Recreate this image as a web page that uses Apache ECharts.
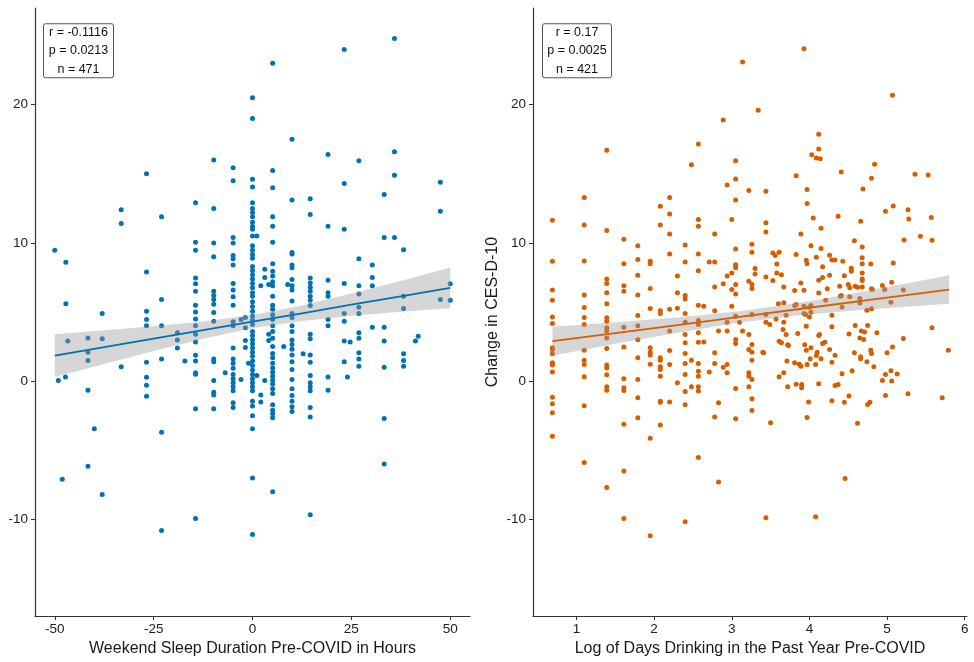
<!DOCTYPE html>
<html>
<head>
<meta charset="utf-8">
<title>CES-D-10 change</title>
<script src="https://cdn.jsdelivr.net/npm/echarts@6/dist/echarts.min.js"></script>
<style>
  html, body { margin: 0; padding: 0; background: #fff; }
  #main { width: 974px; height: 662px; }
</style>
</head>
<body>
<div id="main"></div>
<script>
// ---- data ----
const sleepTicks = [-50, -25, 0, 25, 50]
const drinkTicks = [1, 2, 3, 4, 5, 6]
const changeTicks = [-10, 0, 10, 20]

const sleepStats = ['r = -0.1116', 'p = 0.0213', 'n = 471']
const drinkStats = ['r = 0.17', 'p = 0.0025', 'n = 421']

// weekend sleep (x) vs change in CES-D-10 (y)
const sleepPoints = [
  [-50, 9.47], [-49.1, 0.05], [-48.1, -7.1], [-47.2, 8.6], [-47.2, 5.6], [-47.3, 0.3], [-46.7, 2.9],
  [-41.6, 3.13], [-41.6, 2.1], [-41.6, 1.5], [-41.6, -0.65], [-41.6, -6.15], [-40, -3.45],
  [-38, 4.9], [-38, 3.06], [-38, -8.2], [-33.2, 12.4], [-33.2, 11.4], [-33.2, 1.04],
  [-26.8, 15.0], [-26.8, 7.9], [-26.8, 5.06], [-26.8, 4.46], [-26.8, 4.0], [-26.8, 1.37], [-26.8, 0.29], [-26.8, -0.29], [-26.8, -1.1],
  [-23, 11.9], [-23, 5.9], [-23, 4.0], [-23, 1.6], [-23, -3.7], [-23, -10.8],
  [-19, 3.5], [-19, 2.97], [-19, 2.4], [-17.1, 1.45],
  [-14.4, 12.9], [-14.4, 10.05], [-14.4, 9.47], [-14.4, 7.47], [-14.4, 7.04], [-14.4, 6.51], [-14.4, 5.5], [-14.4, 5.0],
  [-14.4, 4.5], [-14.4, 4.0], [-14.4, 3.4], [-14.4, 2.84], [-14.4, 1.88], [-14.4, 1.45], [-14.4, 0.6], [-14.4, 0.5], [-14.4, -2.0], [-14.4, -9.93],
  [-9.8, 16.0], [-9.8, 12.5], [-9.8, 10.0], [-9.8, 9.0], [-9.8, 6.5], [-9.8, 6.2], [-9.8, 5.9], [-9.8, 5.57], [-9.8, 4.97],
  [-9.8, 4.34], [-9.8, 1.6], [-9.8, 1.4], [-9.8, 0.05], [-9.8, -0.8], [-9.8, -1.0], [-9.8, -2.0], [-6.9, 0.6],
  [-4.9, 15.45], [-4.9, 14.5], [-4.9, 10.4], [-4.9, 10.0], [-4.9, 9.1], [-4.9, 8.85], [-4.9, 8.4], [-4.9, 7.06], [-4.9, 6.6],
  [-4.9, 6.1], [-4.9, 5.5], [-4.9, 4.3], [-4.9, 4.0], [-4.9, 2.4], [-4.9, 1.6], [-4.9, 1.3], [-4.9, 0.94], [-4.9, 0.48],
  [-4.9, 0.17], [-4.9, -0.12], [-4.9, -0.4], [-4.9, -0.7], [-4.9, -1.57], [-4.9, -1.9],
  [-2.9, 0.12], [-2.9, 4.46], [-1.8, 4.6], [-1.8, 3.86], [-1.8, 2.94], [-1.8, 2.43], [-1, 1.3],
  [0, 20.5], [0, 19.0], [0, 14.6], [0, 14.05], [0, 12.9], [0, 12.5], [0, 12.2], [0, 11.9], [0, 11.5], [0, 11.2], [0, 11.0],
  [0, 10.5], [0, 9.8], [0, 9.47], [0, 9.16], [0, 8.9], [0, 8.3], [0, 8.0], [0, 7.7], [0, 7.4], [0, 7.06], [0, 6.75], [0, 6.4],
  [0, 6.14], [0, 5.75], [0, 5.4], [0, 5.06], [0, 4.7], [0, 4.4], [0, 4.1], [0, 3.6], [0, 3.3], [0, 3.0], [0, 2.7], [0, 2.4],
  [0, 2.1], [0, 1.8], [0, 1.45], [0, 1.13], [0, 0.8], [0, 0.48], [0, 0.17], [0, -0.12], [0, -0.4], [0, -0.7], [0, -1.45],
  [0, -1.8], [0, -2.5], [0, -3.45], [0, -7.0], [0, -11.1],
  [1.1, 10.5], [1.1, 0.4], [2.1, 6.9], [2.1, -1.0], [2.1, -1.5], [3.1, 8.1], [3.1, 7.5], [3.1, 0.05],
  [4.1, 7.0], [4.1, 3.4], [4.1, 2.94],
  [5.1, 23.0], [5.1, 15.25], [5.1, 14.0], [5.1, 11.9], [5.1, 11.2], [5.1, 10.05], [5.1, 8.5], [5.1, 7.95], [5.1, 7.6],
  [5.1, 7.2], [5.1, 6.9], [5.1, 6.15], [5.1, 5.5], [5.1, 5.2], [5.1, 4.8], [5.1, 4.46], [5.1, 4.0], [5.1, 3.6], [5.1, 3.1],
  [5.1, 2.5], [5.1, 2.0], [5.1, 1.7], [5.1, 1.3], [5.1, 0.96], [5.1, 0.65], [5.1, 0.36], [5.1, 0.07], [5.1, -0.2],
  [5.1, -0.55], [5.1, -0.9], [5.1, -1.7], [5.1, -2.1], [5.1, -2.36], [5.1, -2.65], [5.1, -8.0],
  [7.9, 2.5], [8.9, 7.0],
  [10, 17.5], [10, 13.1], [10, 9.3], [10, 9.2], [10, 8.4], [10, 8.2], [10, 7.35], [10, 6.9], [10, 6.6], [10, 5.8], [10, 4.9],
  [10, 4.6], [10, 4.0], [10, 3.6], [10, 2.97], [10, 2.65], [10, 2.3], [10, 1.9], [10, 1.4], [10, 0.84], [10, 0.12],
  [10, -0.55], [10, -1.04], [10, -1.45], [10, -1.85], [10, -2.2], [12.8, 1.98],
  [14.6, 13.2], [14.6, 12.05], [14.6, 7.47], [14.6, 7.1], [14.6, 6.8], [14.6, 6.5], [14.6, 6.15], [14.6, 5.86], [14.6, 5.47],
  [14.6, 3.4], [14.6, 3.06], [14.6, 1.9], [14.6, 1.37], [14.6, 0.4], [14.6, -0.12], [14.6, -0.4], [14.6, -0.7], [14.6, -1.9],
  [14.6, -2.6], [14.6, -9.67],
  [19.1, 16.4], [19.1, 11.2], [19.1, 7.3], [19.1, 6.4], [19.1, 6.14], [19.1, 4.46], [19.1, 4.0], [19.1, 0.3], [19.1, -0.65],
  [23.2, 24.0], [23.2, 14.3], [23.2, 11.0], [23.2, 7.06], [23.2, 4.9], [23.2, 4.34], [23.2, 2.9], [23.2, 1.4],
  [24, 0.3], [24.7, 2.84],
  [26.9, 15.95], [26.9, 8.85], [26.9, 6.9], [26.9, 6.3], [26.9, 5.35], [26.9, 4.9], [26.9, 3.5], [26.9, 3.1], [26.9, 2.05],
  [26.9, 1.6], [26.9, 1.08],
  [30.3, 8.4], [30.3, 7.5], [30.3, 6.9], [30.3, 3.9],
  [33.3, 13.5], [33.3, 10.4], [33.3, 3.9], [33.3, 2.9], [33.3, 1.0], [33.3, -2.7], [33.3, -6.0],
  [35.9, 24.8], [35.9, 16.6], [35.9, 14.9], [35.9, 10.4],
  [38.2, 9.5], [38.2, 6.14], [38.2, 5.25], [38.2, 1.98], [38.2, 1.5], [38.2, 1.08],
  [41.2, 2.9], [41.9, 3.25], [47.5, 14.4], [47.5, 12.3], [47.5, 5.9], [50, 7.04], [50, 5.86]
]

// log days drinking (x) vs change in CES-D-10 (y)
const drinkPoints = [
  [0.69, 11.64], [0.69, 8.68], [0.69, 6.6], [0.69, 5.86], [0.69, 4.65], [0.69, 4.17], [0.69, 2.41], [0.69, 2.29], [0.69, 1.98],
  [0.69, 1.33], [0.69, 1.16], [0.69, 0.67], [0.69, -1.16], [0.69, -1.64], [0.69, -2.29], [0.69, -3.98],
  [1.1, 13.28], [1.1, 11.3], [1.1, 8.7], [1.1, 6.24], [1.1, 5.33], [1.1, 4.6], [1.1, 4.1], [1.1, 2.24], [1.1, 1.52], [1.1, 1.2],
  [1.1, 0.32], [1.1, -1.78], [1.1, -5.88],
  [1.39, 16.7], [1.39, 10.9], [1.39, 7.4], [1.39, 7.06], [1.39, 6.4], [1.39, 5.6], [1.39, 4.58], [1.39, 4.34], [1.39, 3.86],
  [1.39, 3.62], [1.39, 3.13], [1.39, 2.36], [1.39, 1.16], [1.39, 0.96], [1.39, 0.46], [1.39, -0.41], [1.39, -0.65], [1.39, -7.69],
  [1.61, 10.26], [1.61, 8.5], [1.61, 6.9], [1.61, 6.5], [1.61, 3.9], [1.61, 2.48], [1.61, 0.17], [1.61, -0.48], [1.61, -0.67],
  [1.61, -3.11], [1.61, -6.51], [1.61, -9.93],
  [1.79, 9.8], [1.79, 8.8], [1.79, 7.66], [1.79, 6.24], [1.79, 4.75], [1.79, 4.0], [1.79, 3.0], [1.79, 1.69], [1.79, 0.12],
  [1.79, -1.2], [1.79, -2.65],
  [1.95, 8.68], [1.95, 8.5], [1.95, 6.7], [1.95, 5.25], [1.95, 2.41], [1.95, 2.1], [1.95, 1.9], [1.95, 1.23], [1.95, -4.14], [1.95, -11.18],
  [2.08, 12.65], [2.08, 11.3], [2.08, 5.1], [2.08, 4.9], [2.08, 1.69], [2.08, 1.52], [2.08, 1.04], [2.08, 0.84], [2.08, 0.36],
  [2.08, -1.45], [2.08, -1.52], [2.08, -3.18],
  [2.2, 13.28], [2.2, 12.1], [2.2, 10.65], [2.2, 9.2], [2.2, 5.2], [2.2, 3.62], [2.2, 2.22], [2.2, 1.2], [2.2, -1.5],
  [2.3, 7.6], [2.3, 6.4], [2.3, 5.28], [2.3, -0.12],
  [2.4, 9.86], [2.4, 8.63], [2.4, 6.2], [2.4, 5.95], [2.4, 4.9], [2.4, 4.27], [2.4, 3.38], [2.4, 2.78], [2.4, 2.0], [2.4, 1.28],
  [2.4, 0.48], [2.4, -0.75], [2.4, -1.71], [2.4, -10.17],
  [2.48, 15.65], [2.48, 1.52], [2.48, -0.41],
  [2.57, 17.16], [2.57, 11.7], [2.57, 11.2], [2.57, 9.2], [2.57, 7.98], [2.57, 5.5], [2.57, 4.39], [2.57, 4.1], [2.57, 3.5],
  [2.57, 2.82], [2.57, 1.28], [2.57, 0.72], [2.57, 0.36], [2.57, -0.41], [2.57, -0.72], [2.57, -5.52],
  [2.64, 5.42], [2.64, 2.84], [2.71, 8.63], [2.71, 0.67],
  [2.78, 8.63], [2.78, 10.65], [2.78, 6.82], [2.78, 5.1], [2.78, 2.05], [2.78, 1.28], [2.78, -2.6],
  [2.83, -1.57], [2.83, -7.3], [2.83, 3.62], [2.89, 18.9], [2.89, 7.04], [2.89, 1.01],
  [2.94, 14.2], [2.94, 7.6], [2.94, 4.27], [2.94, 1.2], [2.94, 0.6], [2.94, 3.62],
  [3.0, 11.7], [3.0, 7.83], [3.0, 6.63], [3.0, 5.42],
  [3.05, 15.95], [3.05, 14.63], [3.05, 13.1], [3.05, 9.57], [3.05, 8.43], [3.05, 8.2], [3.05, 7.0], [3.05, 6.3], [3.05, 4.7],
  [3.05, 3.01], [3.05, 2.72], [3.05, -0.53], [3.05, -2.72], [3.1, 4.27], [3.14, 23.1], [3.14, 3.62],
  [3.22, 13.8], [3.22, 7.23], [3.22, 3.38], [3.22, 2.29], [3.22, 0.6], [3.22, 0.36], [3.22, -0.41],
  [3.26, 9.9], [3.26, 9.33], [3.26, 7.0], [3.26, 6.7], [3.26, 4.82], [3.26, 2.65], [3.26, 2.1], [3.26, 1.52], [3.26, 0.12],
  [3.26, -1.28], [3.26, -2.12], [3.3, 8.15], [3.3, 7.76], [3.34, 19.6], [3.41, 2.05], [3.4, 2.1],
  [3.44, 13.74], [3.44, 11.47], [3.44, 10.8], [3.44, 7.54], [3.44, 4.82], [3.44, 4.27], [3.44, -9.88], [3.5, -3.01], [3.49, 4.1],
  [3.53, 7.28], [3.53, 9.28], [3.56, 9.09], [3.58, 8.48], [3.58, 7.83], [3.61, 9.33], [3.61, 0.32], [3.61, 2.89],
  [3.64, 7.69], [3.64, 2.78], [3.67, 6.82], [3.67, 5.67], [3.67, 4.27], [3.67, 0.6], [3.6, 5.6], [3.57, 4.5], [3.66, 3.74],
  [3.7, 3.37], [3.7, 4.77], [3.71, 1.45], [3.72, -0.41], [3.72, 2.63], [3.73, 2.58], [3.81, 6.56], [3.81, 1.33], [3.81, 5.47],
  [3.83, 14.87], [3.83, 9.16], [3.83, 5.54], [3.83, -0.22], [3.85, 3.45], [3.87, 1.23], [3.89, 10.65], [3.89, 7.11], [3.89, 1.08],
  [3.9, -0.24], [3.9, -0.48], [3.93, 24.05], [3.93, 6.58], [3.93, 5.42], [3.93, 4.9], [3.94, 2.63], [3.95, 4.82],
  [3.96, 8.75], [3.96, 2.24], [3.96, 3.98], [3.97, 13.86], [3.97, 12.85], [3.97, 8.5], [3.97, 1.2], [3.97, -2.63], [3.99, -1.5],
  [4.0, 5.35], [4.0, 4.65], [4.01, 1.62], [4.02, 9.8], [4.02, 5.47], [4.02, 4.99], [4.02, 2.41], [4.03, 16.39], [4.05, 11.8],
  [4.08, 1.2], [4.08, -9.81], [4.09, 8.97], [4.09, 16.15], [4.09, 1.86], [4.1, 2.1],
  [4.12, 17.87], [4.12, 16.8], [4.12, 7.3], [4.12, 6.38], [4.12, 3.3], [4.12, -0.19], [4.13, 3.37], [4.14, 16.1],
  [4.15, 11.07], [4.15, 9.6], [4.15, 1.62], [4.17, 7.5], [4.17, 8.27], [4.17, 2.72], [4.2, 2.82], [4.21, 5.85], [4.23, 6.68],
  [4.26, 9.11], [4.26, 7.66], [4.26, 2.29], [4.29, 8.77], [4.29, 1.37], [4.29, -1.42], [4.29, 4.77], [4.29, 3.93],
  [4.33, 8.77], [4.33, 1.88], [4.33, -0.31], [4.37, 11.93], [4.37, -0.24], [4.39, 6.87], [4.4, 6.15], [4.41, 15.14], [4.41, 6.2],
  [4.42, 0.53], [4.42, 5.37], [4.43, 8.68], [4.45, 7.62], [4.45, -1.52], [4.46, -7.04], [4.5, 7.0], [4.51, 3.42], [4.51, -1.08],
  [4.52, 6.75], [4.52, 6.1], [4.54, 8.17], [4.54, 7.95], [4.55, 0.75], [4.58, 10.16], [4.58, 2.05], [4.59, 6.87], [4.59, 4.02],
  [4.62, 6.8], [4.62, -3.04], [4.65, 3.13], [4.65, 5.98], [4.65, 5.66], [4.66, 11.57], [4.66, 1.62], [4.66, 1.76], [4.67, 3.62],
  [4.68, 9.7], [4.68, 8.92], [4.68, 8.5], [4.68, 7.83], [4.68, 7.4], [4.68, 7.28], [4.68, 6.82], [4.69, 13.9], [4.7, 3.01],
  [4.71, 3.55], [4.74, 1.4], [4.74, 5.13], [4.75, -1.69], [4.75, 4.02], [4.78, -1.52], [4.79, 8.48], [4.79, 2.24],
  [4.8, 14.68], [4.8, 2.0], [4.8, 6.68], [4.8, 5.23], [4.81, 6.63], [4.83, 1.04], [4.84, 15.69], [4.87, 3.5],
  [4.94, 6.92], [4.94, 0.05], [4.97, 6.63], [4.98, 12.3], [4.98, 0.48], [4.98, -1.04], [5.0, 2.05],
  [5.05, 0.75], [5.05, 5.71], [5.06, 0.02], [5.06, 7.16], [5.07, 20.68], [5.07, 2.48], [5.08, 12.68], [5.08, 8.55],
  [5.13, 0.51], [5.21, 6.6], [5.21, 3.08], [5.22, 10.22], [5.27, 12.41], [5.27, -0.92], [5.28, 11.74],
  [5.36, 14.97], [5.43, 10.49], [5.53, 14.92], [5.57, 11.84], [5.58, 10.2], [5.58, 3.86], [5.71, -1.2], [5.79, 2.24]
]

// fitted lines and confidence bands, read at a few x positions
const sleepFitX = [-50, -37.5, -25, -12.5, 0, 12.5, 25, 37.5, 50]
const sleepFitY = [1.85, 2.46, 3.08, 3.69, 4.30, 4.91, 5.53, 6.14, 6.75]
const sleepLow = [0.30, 1.24, 2.18, 3.06, 3.82, 4.35, 4.72, 5.03, 5.27]
const sleepHigh = [3.40, 3.68, 3.98, 4.32, 4.78, 5.47, 6.34, 7.25, 8.23]

const drinkFitX = [0.69, 1.5, 2.3, 3.1, 3.9, 4.7, 5.8]
const drinkFitY = [2.89, 3.48, 4.06, 4.65, 5.24, 5.82, 6.63]
const drinkLow = [1.84, 2.70, 3.51, 4.24, 4.78, 5.16, 5.60]
const drinkHigh = [3.94, 4.26, 4.61, 5.06, 5.70, 6.48, 7.66]

// ---- chart ----
const FONT = '"Liberation Sans", Arial, sans-serif'
const BLUE = '#0072B2'
const ORANGE = '#D55E00'
const AXIS = '#333333'

function pairs(xs, ys) {
  return xs.map((x, i) => [x, ys[i]])
}

function bandSeries(idx, xs, lo, hi) {
  return {
    type: 'custom',
    xAxisIndex: idx,
    yAxisIndex: idx,
    z: 3,
    silent: true,
    data: [0],
    renderItem: (params, api) => {
      const top = xs.map((x, i) => api.coord([x, hi[i]]))
      const bottom = xs.map((x, i) => api.coord([x, lo[i]])).reverse()
      return {
        type: 'polygon',
        shape: { points: top.concat(bottom) },
        style: { fill: 'rgba(153,153,153,0.4)' }
      }
    }
  }
}

function xAxisOf(idx, min, max, ticks, title) {
  return {
    type: 'value', gridIndex: idx, min: min, max: max, position: 'bottom',
    name: title, nameLocation: 'middle', nameGap: 22,
    nameTextStyle: { fontFamily: FONT, fontSize: 16, color: '#1a1a1a' },
    axisLine: { show: true, onZero: false, lineStyle: { color: AXIS, width: 1.2 } },
    axisTick: { show: true, length: 4, lineStyle: { color: AXIS }, customValues: ticks },
    axisLabel: { customValues: ticks, margin: 6, fontFamily: FONT, fontSize: 13.5, color: '#222' },
    splitLine: { show: false }
  }
}

function yAxisOf(idx, title) {
  return {
    type: 'value', gridIndex: idx, min: -17, max: 27, position: 'left',
    name: title, nameLocation: 'middle', nameGap: 32,
    nameTextStyle: { fontFamily: FONT, fontSize: 16, color: '#1a1a1a' },
    axisLine: { show: true, onZero: false, lineStyle: { color: AXIS, width: 1.2 } },
    axisTick: { show: true, length: 4, lineStyle: { color: AXIS }, customValues: changeTicks },
    axisLabel: { customValues: changeTicks, margin: 7, fontFamily: FONT, fontSize: 13.5, color: '#222' },
    splitLine: { show: false }
  }
}

function statsBox(left, width, lines) {
  return {
    type: 'group', left: left, top: 23,
    children: [
      { type: 'rect', shape: { x: 0, y: 0, width: width, height: 54, r: 2 },
        style: { fill: '#fff', stroke: '#555', lineWidth: 1 } },
      { type: 'text', x: width / 2, y: 27,
        style: { text: lines.join('\n'), fontFamily: FONT, fontSize: 12.5, lineHeight: 18.5,
          fill: '#111', align: 'center', verticalAlign: 'middle' } }
    ]
  }
}

const chart = echarts.init(document.getElementById('main'))
chart.setOption({
  animation: false,
  backgroundColor: '#fff',
  grid: [
    { left: 35, top: 8, width: 435, height: 609 },
    { left: 533, top: 8, width: 434, height: 609 }
  ],
  xAxis: [
    xAxisOf(0, -55, 55, sleepTicks, 'Weekend Sleep Duration Pre-COVID in Hours'),
    xAxisOf(1, 0.44, 6.03, drinkTicks, 'Log of Days Drinking in the Past Year Pre-COVID')
  ],
  yAxis: [
    yAxisOf(0, ''),
    yAxisOf(1, 'Change in CES-D-10')
  ],
  series: [
    { type: 'scatter', xAxisIndex: 0, yAxisIndex: 0, data: sleepPoints, symbolSize: 5,
      itemStyle: { color: BLUE, opacity: 1 }, z: 2, silent: true },
    { type: 'scatter', xAxisIndex: 1, yAxisIndex: 1, data: drinkPoints, symbolSize: 5,
      itemStyle: { color: ORANGE, opacity: 1 }, z: 2, silent: true },
    bandSeries(0, sleepFitX, sleepLow, sleepHigh),
    bandSeries(1, drinkFitX, drinkLow, drinkHigh),
    { type: 'line', xAxisIndex: 0, yAxisIndex: 0, data: pairs(sleepFitX, sleepFitY), showSymbol: false,
      lineStyle: { color: BLUE, width: 1.8 }, z: 4, silent: true },
    { type: 'line', xAxisIndex: 1, yAxisIndex: 1, data: pairs(drinkFitX, drinkFitY), showSymbol: false,
      lineStyle: { color: ORANGE, width: 1.8 }, z: 4, silent: true }
  ],
  graphic: [
    statsBox(43, 70, sleepStats),
    statsBox(542, 69, drinkStats)
  ]
})
window.addEventListener('resize', () => {
  chart.resize()
})
</script>
</body>
</html>
